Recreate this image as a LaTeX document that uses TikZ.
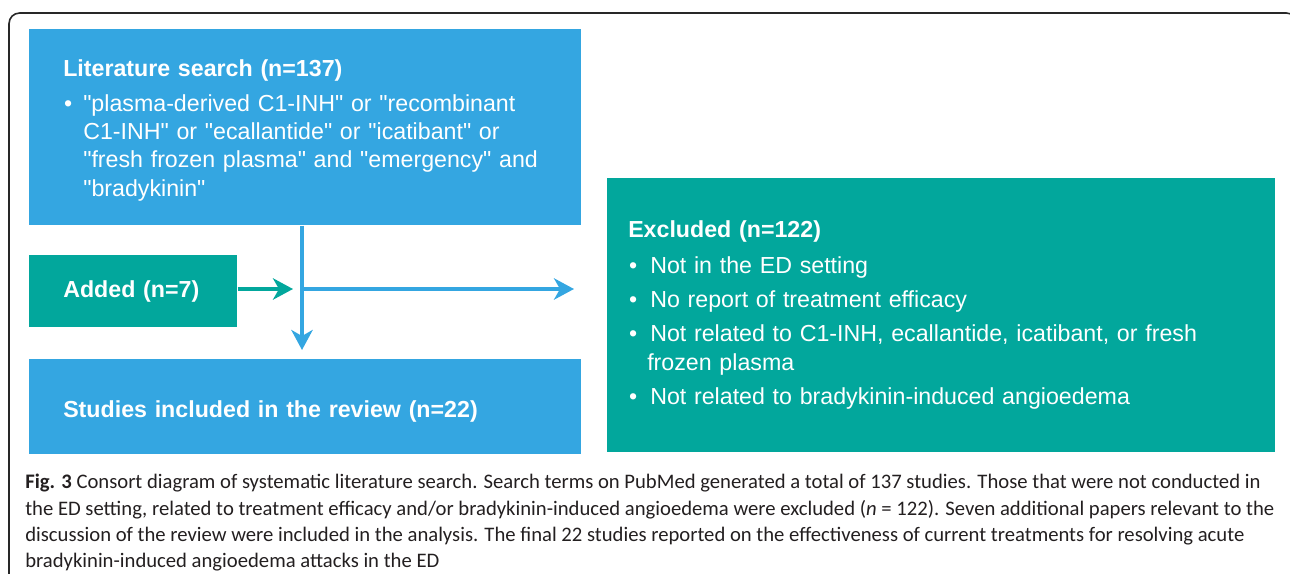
\documentclass[tikz,border=0pt]{standalone}
\usepackage{fontspec}
\setmainfont{Liberation Sans}[Ligatures=TeXOff]
\newfontfamily\capfont{Carlito}
\usetikzlibrary{arrows.meta,calc}
\definecolor{boxblue}{RGB}{52,166,225}
\definecolor{boxgreen}{RGB}{2,167,156}
\definecolor{framegray}{RGB}{40,40,40}
\definecolor{captext}{RGB}{35,31,32}
\newcommand{\bul}[1]{\makebox[#1][l]{\hspace{0.6pt}\textbullet}}
\begin{document}
\begin{tikzpicture}[x=0.75pt,y=-0.75pt,
  flowbox/.style={rectangle, inner ysep=0pt, anchor=north west, text=white, align=left,
    font=\fontsize{17.4}{21.2}\selectfont},
  bluebox/.style={flowbox, fill=boxblue},
  greenbox/.style={flowbox, fill=boxgreen},
  bluearrow/.style={draw=boxblue, line width=3pt, -{Stealth[length=15pt,width=16pt,inset=4.5pt]}},
  greenarrow/.style={draw=boxgreen, line width=3pt, -{Stealth[length=15pt,width=16pt,inset=4.5pt]}},
  captionnode/.style={anchor=north west, align=left, inner sep=0pt, text=captext,
    font=\capfont\fontsize{15.5}{19.8}\selectfont}
]
\useasboundingbox (0,0) rectangle (1290,574);
\begin{scope}
\clip (0,0) rectangle (1290,574);
\draw[framegray, line width=1.2pt, rounded corners=8pt] (9,600) -- (9,13) -- (1297,13) -- (1297,600);
\end{scope}

\node[bluebox, minimum width=414pt, minimum height=147pt, inner xsep=25.5pt, text width=363pt] (lit) at (29,29)
{\rule{0pt}{17.2pt}\textbf{Literature search (n=137)}\\[5pt]
\bul{15pt}"plasma-derived C1-INH" or "recombinant\\
\hspace{15pt}C1-INH" or "ecallantide" or "icatibant" or\\
\hspace{15pt}"fresh frozen plasma" and "emergency" and\\
\hspace{15pt}"bradykinin"};

\node[greenbox, minimum width=156pt, minimum height=54pt, inner xsep=25.5pt, text width=105pt] (added) at (29,255)
{\textbf{Added (n=7)}};

\node[bluebox, minimum width=414pt, minimum height=71.25pt, inner xsep=25.5pt, text width=363pt] (studies) at (29,359)
{\rule{0pt}{20.2pt}\textbf{Studies included in the review (n=22)}};

\node[greenbox, minimum width=501pt, minimum height=205.5pt, inner xsep=15.75pt, text width=469.5pt] (excl) at (607,178)
{\textbf{Excluded (n=122)}\\[5.5pt]
\bul{16.5pt}Not in the ED setting\\[4.3pt]
\bul{16.5pt}No report of treatment efficacy\\[4.3pt]
\bul{16.5pt}Not related to C1-INH, ecallantide, icatibant, or fresh\\[1pt]
\hspace{14.25pt}frozen plasma\\[4.3pt]
\bul{16.5pt}Not related to bradykinin-induced angioedema};

\coordinate (j) at (302,289);
\draw[bluearrow, shorten >=6.75pt] (lit.south -| j) -- (studies.north -| j);
\draw[bluearrow, shorten >=24.75pt] ([xshift=-1.5pt]j) -- (excl.west |- j);
\draw[greenarrow, shorten >=6.75pt] (added.east |- j) -- (j);

\node[captionnode] (cap) at (25,474)
{\textbf{Fig. 3} Consort diagram of systematic literature search. Search terms on PubMed generated a total of 137 studies. Those that were not conducted in\\
the ED setting, related to treatment efficacy and/or bradykinin-induced angioedema were excluded (\textit{n} = 122). Seven additional papers relevant to the\\
discussion of the review were included in the analysis. The final 22 studies reported on the effectiveness of current treatments for resolving acute\\
bradykinin-induced angioedema attacks in the ED};
\end{tikzpicture}
\end{document}
